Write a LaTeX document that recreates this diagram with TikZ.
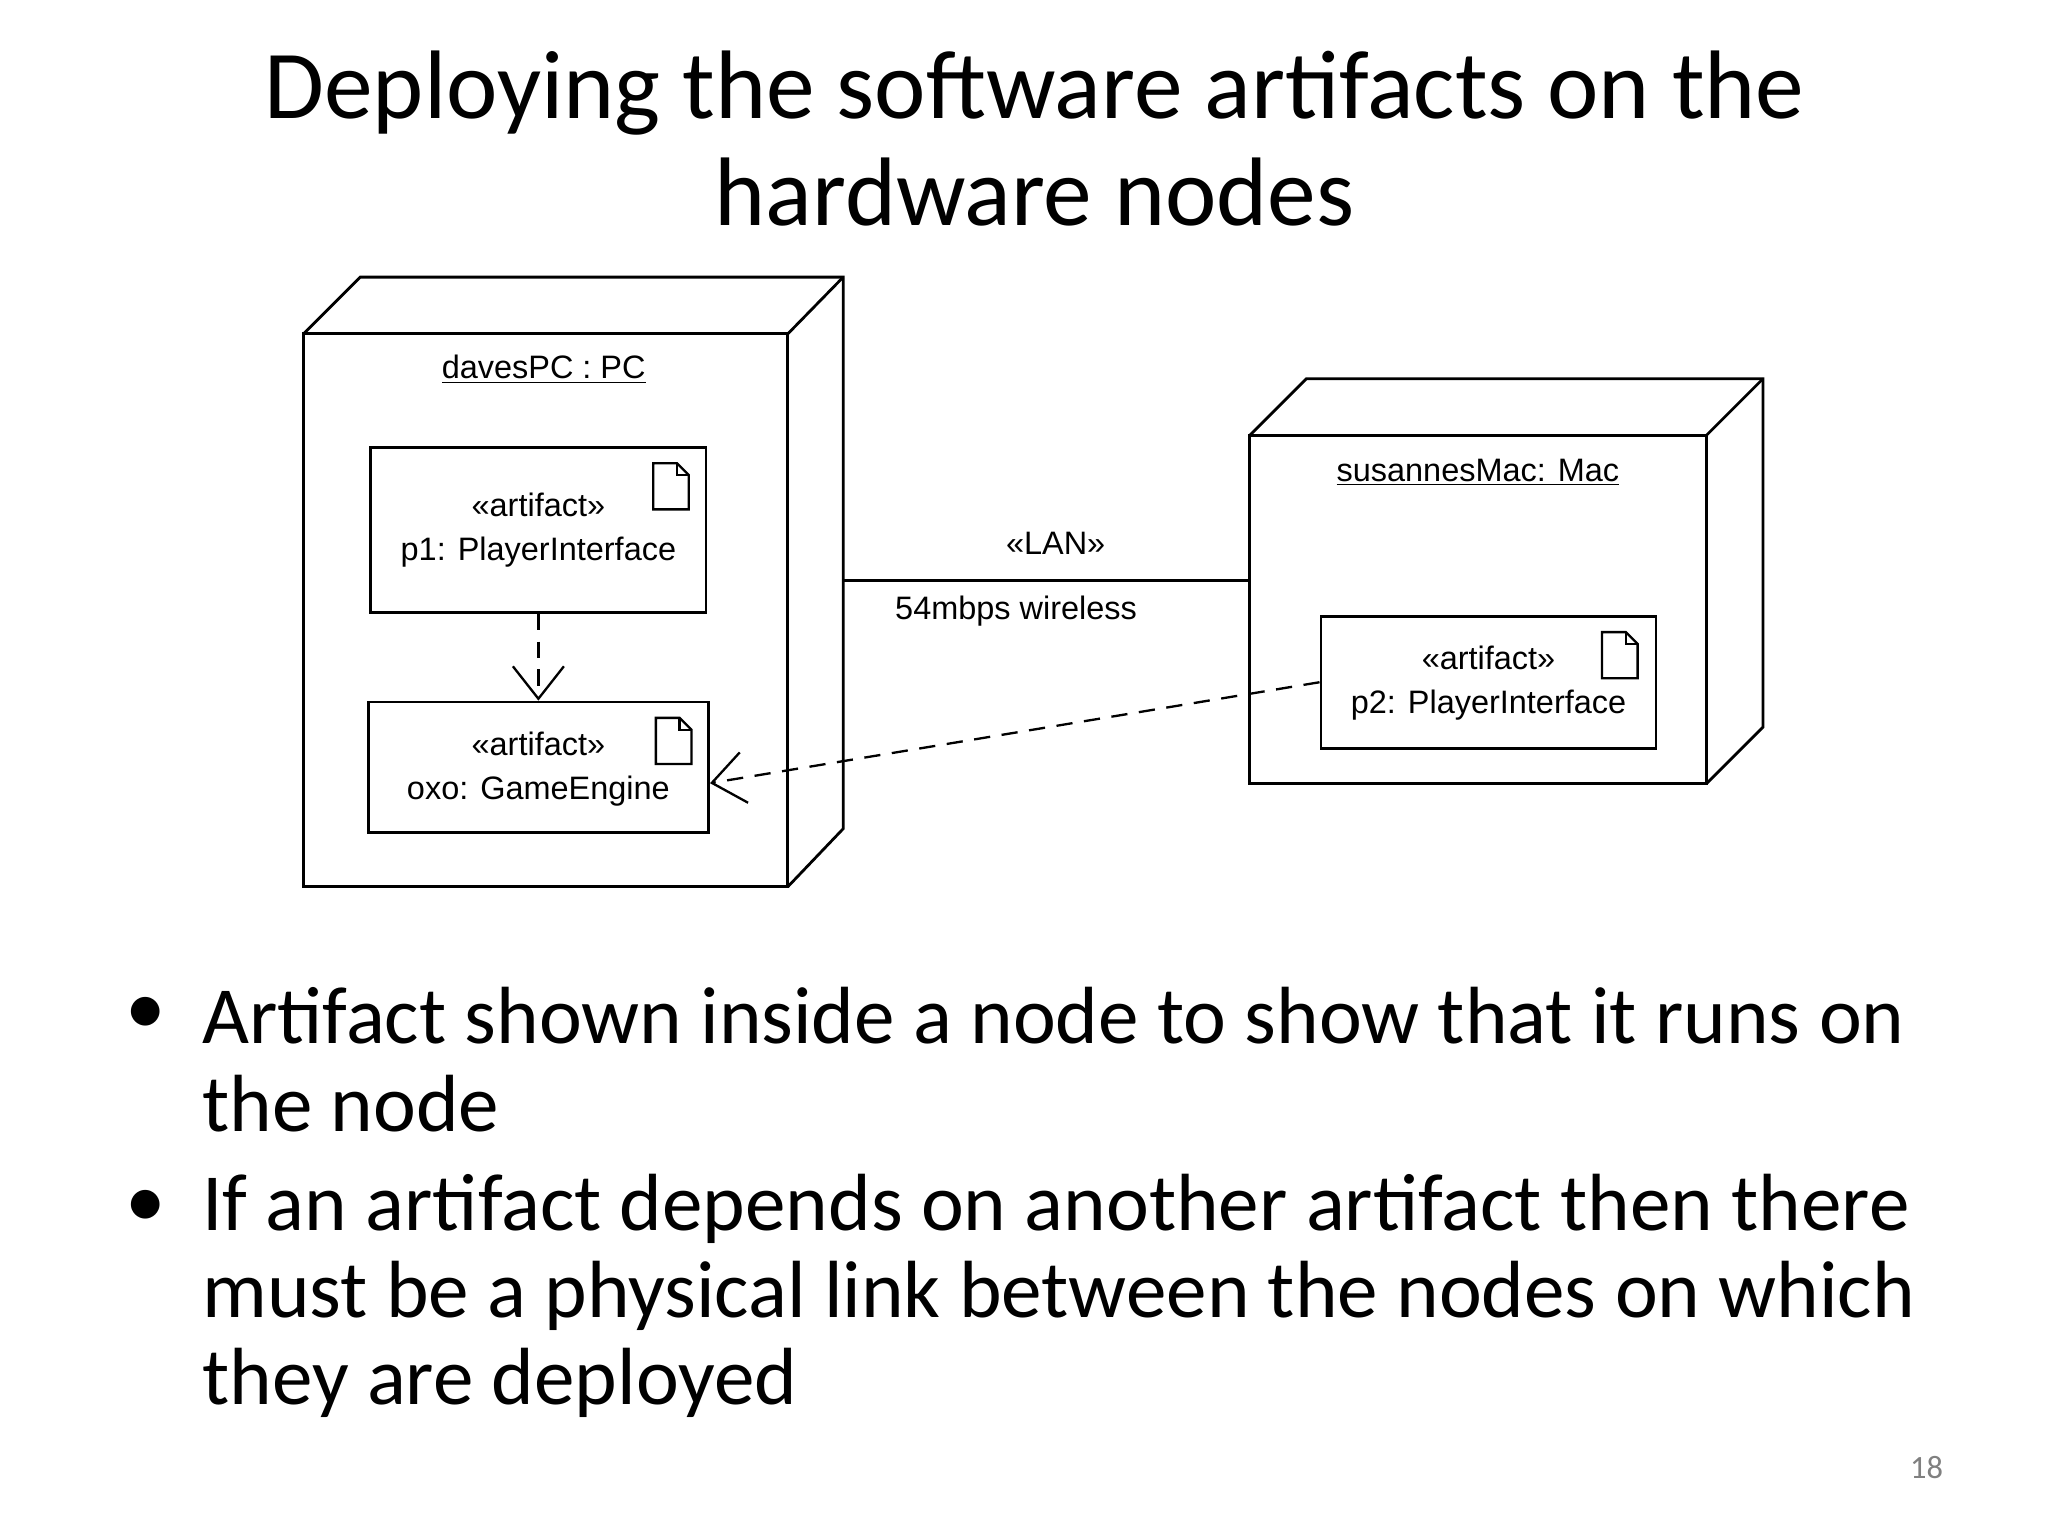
\documentclass[tikz,border=0pt]{standalone}
\usepackage{fontspec}
\setmainfont{Carlito}
\newfontfamily\arial{Liberation Sans}
\usetikzlibrary{arrows.meta}
\begin{document}
\begin{tikzpicture}[x=0.02cm,y=-0.02cm,
  box/.style={draw,line width=1.2pt},
  lbl/.style={font=\arial\fontsize{14}{16}\selectfont,inner sep=0pt},
  dep/.style={dashed,line width=1pt,dash pattern=on 7pt off 5pt,-{Straight Barb[length=14pt,width=22pt,line width=1pt]}},
  bul/.style={font=\fontsize{35}{42}\selectfont,anchor=west,inner sep=0pt}]
\useasboundingbox (0,0) rectangle (1552,1164);
% title
\node[font=\fontsize{42}{48}\selectfont,align=center] (title) at (784,105) {Deploying the software artifacts on the\\[-2pt]hardware nodes};
% davesPC
\draw[box] (230,253) rectangle (597,672);
\draw[box] (230,253) -- (273,210) -- (639,210) -- (639,628) -- (597,672);
\draw[box] (597,253) -- (639,210);
\node[lbl] (dpc) at (412,280) {\underline{davesPC : PC}};
% susannesMac
\draw[box] (947,330) rectangle (1293,594);
\draw[box] (947,330) -- (990,287) -- (1336,287) -- (1336,551) -- (1293,594);
\draw[box] (1293,330) -- (1336,287);
\node[lbl] (smac) at (1120,358) {\underline{susannesMac: Mac}};
% artifacts
\newcommand{\docicon}[2]{\draw[line width=1pt] (#1,#2) -- ++(18,0) -- ++(9,9) -- ++(0,26) -- ++(-27,0) -- cycle; \draw[line width=1pt] (#1+18,#2) -- ++(0,9) -- ++(9,0);}
\node[box,minimum width=254*0.02cm,minimum height=125*0.02cm,inner sep=0pt] (p1) at (408,401.5) {};
\node[lbl,align=center] at (408,402) {«artifact»\\[3pt]p1: PlayerInterface};
\docicon{495}{351}
\node[box,minimum width=258*0.02cm,minimum height=99*0.02cm,inner sep=0pt] (oxo) at (408,581.5) {};
\node[lbl,align=center] at (408,583) {«artifact»\\[3pt]oxo: GameEngine};
\docicon{497}{544}
\node[box,minimum width=254*0.02cm,minimum height=100*0.02cm,inner sep=0pt] (p2) at (1128,517) {};
\node[lbl,align=center] at (1128,518) {«artifact»\\[3pt]p2: PlayerInterface};
\docicon{1214}{479}
% LAN
\coordinate (la) at (639,440); \coordinate (lb) at (947,440);
\draw[line width=1.2pt] (la) -- (lb);
\node[lbl] (lan) at (800,412) {«LAN»};
\node[lbl] (wl) at (770,463) {54mbps wireless};
% dependencies
\draw[dep] (p1.south) -- (oxo.north);
\draw[dep] (p2.west) -- ([yshift=-12*0.02cm]oxo.east);
% bullets
\node[bul] (b1) at (95,770) {•};
\node[bul] (t1) at (153,770) {Artifact shown inside a node to show that it runs on};
\node[bul] (t2) at (153,836) {the node};
\node[bul] (b2) at (95,916) {•};
\node[bul] (t3) at (153,916) {If an artifact depends on another artifact then there};
\node[bul] (t4) at (153,982) {must be a physical link between the nodes on which};
\node[bul] (t5) at (153,1048) {they are deployed};
\node[font=\fontsize{14}{16}\selectfont,text=gray] (pg) at (1460,1112) {18};
\end{tikzpicture}
\end{document}
